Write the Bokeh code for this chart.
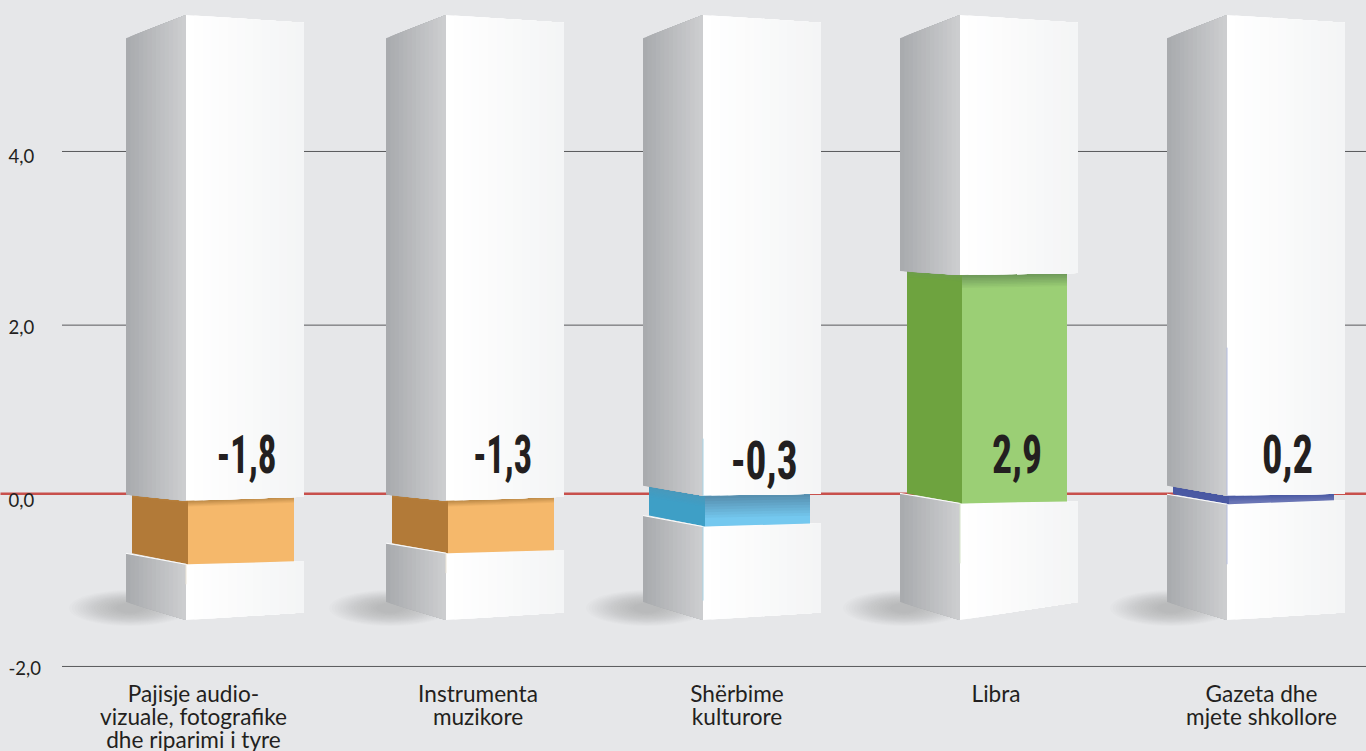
from bokeh.plotting import figure
from bokeh.models import Range1d
from bokeh.core.properties import value
from bokeh.embed import file_html
from bokeh.resources import INLINE

# ---- data ----
categories = ["Pajisje audio-\nvizuale, fotografike\ndhe riparimi i tyre", "Instrumenta\nmuzikore",
              "Shërbime\nkulturore", "Libra", "Gazeta dhe\nmjete shkollore"]
values = [-1.8, -1.3, -0.3, 2.9, 0.2]
value_labels = ["-1,8", "-1,3", "-0,3", "2,9", "0,2"]
# ends of each coloured segment as drawn, in axis units (the print is not to scale)
segment_top = [-0.07, -0.07, -0.01, 2.56, -0.01]
segment_bottom = [-0.81, -0.68, -0.37, -0.10, -0.11]
tick_values = [4.0, 2.0, 0.0, -2.0]
tick_labels = ["4,0", "2,0", "0,0", "-2,0"]

# ---- layout and style ----
W, H = 1366, 751
Y0, S = 494.3, 85.83           # pixel of value 0, pixels per unit
px = 1 / S
BG = "#e6e7e9"
box_left = [126, 386, 643, 900, 1167]
box_side = 60
box_front = 118
band_inset_left = [6, 6, 6, 7, 6]
band_inset_mid = [2, 2, 2, 2, 2]
band_inset_right = [10, 10, 11, 11, 11]
upper_drop_left = [6, 6, 10, 4, 10]    # px the left corner sits above the middle one
upper_drop_right = [4, 4, 2, 2, 2]
lower_drop_left = [11, 10, 11, 10, 10]
lower_drop_right = [3, 3, 3, 2, 4]
label_x = [193.5, 478, 737, 996, 1261.5]
value_x = [264, 520.5, 778, 1029, 1299]
value_mid = [0.48, 0.48, 0.41, 0.48, 0.48]
value_width = [60, 59, 67, 50, 51]
tick_label_drop = [4.5, 3.5, 5.5, 1.5]
side_col = ["#b27a38", "#b27a38", "#3e9fc6", "#6ea33f", "#4a59a3"]
front_col = ["#f5b86b", "#f5b86b", "#74c8ef", "#9bcf75", "#6a75b5"]
shade_col = ["#bd8a48", "#bd8a48", "#5790b0", "#6f9a5a", "#4a59a3"]
shade_px = [6, 6, 22, 13, 6]
accent = ["#eee6d8", "#eee6d8", "#a8d4e6", "#d6e4ca", "#b4bcdf"]
accent_up = [0, 0, 57, 0, 148]         # px of tinted seam above the segment
accent_down = [20, 20, 74, 60, 60]     # px of tinted seam below it
TOP_L, TOP_M, TOP_R = 5.32, 5.59, 5.50
BOT_L, BOT_M = -1.25, -1.46
BOT_R = [-1.37, -1.37, -1.37, -1.25, -1.37]
N = 14


def mix(a, b, t):
    ca = [int(a[i:i + 2], 16) for i in (1, 3, 5)]
    cb = [int(b[i:i + 2], 16) for i in (1, 3, 5)]
    return "#%02x%02x%02x" % tuple(round(p + (q - p) * t) for p, q in zip(ca, cb))


p = figure(width=W, height=H, x_range=Range1d(0.5, W + 0.5), y_range=Range1d((Y0 - H) / S, Y0 / S),
           output_backend="svg", toolbar_location=None, min_border=0, outline_line_color=None,
           background_fill_color=BG, border_fill_color=BG,
           x_axis_location=None, y_axis_location=None)
p.xgrid.visible = False
p.ygrid.visible = False

xs, ys, cols = [], [], []


def face(xa, xb, ta, tb, ba, bb, ca, cb, n=N):
    """Horizontal gradient: each slice runs on to the far edge, so no seams show."""
    for i in range(n):
        f = i / n
        x = xa + (xb - xa) * f
        xs.append([x, xb, xb, x])
        ys.append([ta + (tb - ta) * f, tb, bb, ba + (bb - ba) * f])
        cols.append(mix(ca, cb, f))


def vshade(xa, xb, ta, tb, ba, bb, top, base, depth):
    """Vertical fade from the segment's top edge, over depth pixels."""
    xs.append([xa, xb, xb, xa]); ys.append([ta, tb, bb, ba]); cols.append(base)
    n = 8
    for k in range(n):
        d2 = (n - k) / n * depth * px
        xs.append([xa, xb, xb, xa])
        ys.append([ta, tb, tb - d2, ta - d2])
        cols.append(mix(top, base, (n - 1 - k) / n))


# grid, drawn through the tick values (the printed 2,0 line sits a little low)
line_nudge = [0.0, -2.0 * px, 0.0, 0.0]
grid_t = [t + n for t, n in zip(tick_values, line_nudge) if t != 0]
p.segment(x0=[62] * 3, x1=[W + 1] * 3, y0=grid_t, y1=grid_t, line_color="#58595b", line_width=1)
zero = [tick_values[2] + 1 * px]
p.segment(x0=[0], x1=[W + 1], y0=zero, y1=zero, line_color="#c8504c", line_width=2.5)

# soft floor shadows
sx, sy, sw, sh = [], [], [], []
for left in box_left:
    for k in range(18):
        f = k / 18
        sx.append(left + 4)
        sy.append(BOT_L - 6 * px)
        sw.append(122 - 100 * f)
        sh.append((36 - 28 * f) * px)
p.ellipse(x=sx, y=sy, width=sw, height=sh, fill_color="#77787b", fill_alpha=0.019, line_color=None)

for i, left in enumerate(box_left):
    mid = left + box_side
    right = mid + box_front
    st, sb = segment_top[i], segment_bottom[i]
    # lower block
    ll = sb + lower_drop_left[i] * px
    lr = sb + lower_drop_right[i] * px
    face(left, mid, ll, sb, BOT_L, BOT_M, "#a9abae", "#cfd0d2")
    face(mid, right, sb, lr, BOT_M, BOT_R[i], "#ffffff", "#f3f4f5")
    # coloured segment
    bl, bm, br = left + band_inset_left[i], mid + band_inset_mid[i], right - band_inset_right[i]
    tl = st + upper_drop_left[i] * px
    tr = st + upper_drop_right[i] * px
    vshade(bl, bm, tl, st, ll, sb, mix(shade_col[i], side_col[i], 0.5), side_col[i], shade_px[i] * 0.5)
    vshade(bm, br, st, tr, sb, lr, shade_col[i], front_col[i], shade_px[i])
    # upper block
    face(left, mid, TOP_L, TOP_M, tl, st, "#a9abae", "#cfd0d2")
    face(mid, right, TOP_M, TOP_R, st, tr, "#ffffff", "#f3f4f5")

p.patches(xs=xs, ys=ys, fill_color=cols, line_color=None)

# white edge on the lower block, tinted seam on the corner
ex0, ex1, ey0, ey1, ec = [], [], [], [], []
for i, left in enumerate(box_left):
    mid = left + box_side
    st, sb = segment_top[i], segment_bottom[i]
    ex0 += [left, mid, mid]
    ex1 += [mid, mid, mid]
    ey0 += [sb + lower_drop_left[i] * px, sb, st]
    ey1 += [sb, sb - accent_down[i] * px, st + accent_up[i] * px]
    ec += ["#ffffff", accent[i], accent[i]]
p.segment(x0=ex0, x1=ex1, y0=ey0, y1=ey1, line_color=ec, line_width=1)

# value labels
p.text(x=value_x, y=value_mid, text=value_labels, text_align="center", text_baseline="middle",
       text_font=value("Roboto"), text_font_style="bold", text_font_size="53px", text_color="#231f20")

# tick labels (left aligned, as printed)
tick_y = [t - d * px for t, d in zip(tick_values, tick_label_drop)]
p.text(x=[8.5] * 4, y=tick_y, text=tick_labels, text_align="left", text_baseline="middle",
       text_font=value("Lato"), text_font_size="18.5px", text_color="#231f20")

# category labels
cx, cy, ct = [], [], []
for x, c in zip(label_x, categories):
    for r, line in enumerate(c.split("\n")):
        cx.append(x)
        cy.append((Y0 - (693 + 23 * r)) / S)
        ct.append(line)
p.text(x=cx, y=cy, text=ct, text_align="center", text_baseline="middle",
       text_font=value("Lato"), text_font_size="22.6px", text_color="#231f20")

# The value figures are set very condensed in the original: narrow real text to its printed width.
squeeze = """<script>
(function(){var want=%s;var tries=0;
function walk(r,out){r.querySelectorAll('*').forEach(function(e){if(e.shadowRoot)walk(e.shadowRoot,out);if(e.tagName&&e.tagName.toLowerCase()==='text')out.push(e);});return out;}
var t=setInterval(function(){var ts=walk(document,[]);ts.forEach(function(e){var w=want[e.textContent];if(w){e.setAttribute('textLength',w);e.setAttribute('lengthAdjust','spacingAndGlyphs');}});if(++tries>40)clearInterval(t);},50);
})();</script>""" % dict(zip(value_labels, value_width))
style = "<style>html,body{margin:0;padding:0;background:#e6e7e9;overflow:hidden;font-stretch:75%}</style>"
html = file_html(p, INLINE).replace("<head>", "<head>" + style, 1).replace("</body>", squeeze + "</body>", 1)
open("out.html", "w").write(html)
